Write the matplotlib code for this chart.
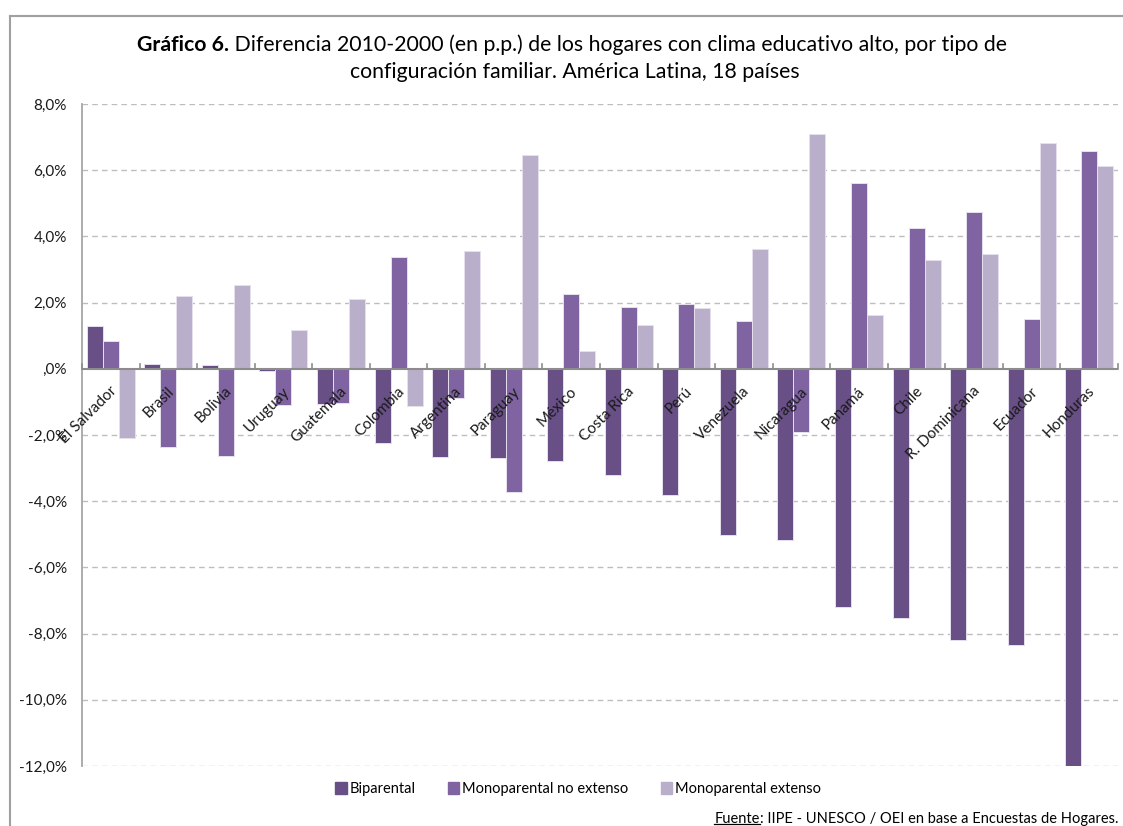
import matplotlib.pyplot as plt
import matplotlib.lines as mlines
import matplotlib.patches as mpatches
import numpy as np

plt.rcParams['font.family'] = ['Lato', 'DejaVu Sans']

paises = ['El Salvador', 'Brasil', 'Bolivia', 'Uruguay', 'Guatemala', 'Colombia',
          'Argentina', 'Paraguay', 'México', 'Costa Rica', 'Perú', 'Venezuela',
          'Nicaragua', 'Panamá', 'Chile', 'R. Dominicana', 'Ecuador', 'Honduras']

biparental = [1.30, 0.15, 0.10, -0.08, -1.05, -2.25, -2.67, -2.70, -2.78, -3.20,
              -3.82, -5.03, -5.18, -7.20, -7.53, -8.20, -8.35, -12.05]
mono_no_ext = [0.85, -2.35, -2.63, -1.08, -1.03, 3.38, -0.88, -3.72, 2.27, 1.88,
               1.97, 1.44, -1.92, 5.60, 4.25, 4.73, 1.50, 6.57]
mono_ext = [-2.10, 2.20, 2.53, 1.18, 2.10, -1.13, 3.57, 6.45, 0.55, 1.32,
            1.85, 3.62, 7.10, 1.62, 3.28, 3.47, 6.83, 6.13]

series = ['Biparental', 'Monoparental no extenso', 'Monoparental extenso']
colores = ['#684F86', '#8064A2', '#BAAFCA']

yticks = [8, 6, 4, 2, 0, -2, -4, -6, -8, -10, -12]
ytick_labels = ['8,0%', '6,0%', '4,0%', '2,0%', ',0%', '-2,0%', '-4,0%', '-6,0%',
                '-8,0%', '-10,0%', '-12,0%']

W, H = 1123, 826
fig = plt.figure(figsize=(W / 100, H / 100), dpi=100)
ax = fig.add_axes([82 / W, 1 - 766 / H, (1118 - 82) / W, (766 - 104) / H])

x = np.arange(len(paises))
ancho = 0.278
for k, (vals, col) in enumerate(zip([biparental, mono_no_ext, mono_ext], colores)):
    ax.bar(x + (k - 1) * ancho, vals, ancho, color=col, edgecolor='#E6E0EE',
           linewidth=0.7, label=series[k], zorder=3)

ax.set_xlim(-0.5, len(paises) - 0.5)
ax.set_ylim(-12, 8)
ax.set_yticks(yticks)
ax.set_yticklabels(ytick_labels)
ax.tick_params(axis='y', length=0, pad=11, labelsize=11, labelcolor='#1a1a1a')
ax.set_xticks([])

for g in yticks:
    if g != 0:
        ax.axhline(g, color='#BDBDBD', lw=1, ls=(0, (4, 3)), zorder=1)
ax.axhline(0, color='#8C8C8C', lw=1.5, zorder=4)
# marcas de separacion entre categorias sobre el eje
for b in np.arange(-0.5, len(paises)):
    ax.plot([b, b], [0, 0.15], color='#8C8C8C', lw=1.2, zorder=4, clip_on=False)

for s in ['top', 'right', 'bottom']:
    ax.spines[s].set_visible(False)
ax.spines['left'].set_color('#A6A6A6')
ax.spines['left'].set_linewidth(1.3)

for i, p in enumerate(paises):
    ax.annotate(p, (i, 0), xytext=(-1, -11), textcoords='offset points',
                rotation=45, rotation_mode='anchor', ha='right', va='top',
                fontsize=11, color='#1a1a1a', zorder=5)

fig.legend(handles=[mpatches.Patch(color=c, label=s) for c, s in zip(colores, series)],
           loc='center', bbox_to_anchor=(578 / W, 1 - 789 / H), ncol=3, frameon=False,
           fontsize=10.5, handlelength=0.8, handleheight=0.8, handletextpad=0.2,
           columnspacing=2.2)

# marco del area del grafico
fig.add_artist(mlines.Line2D([10 / W, 1], [1 - 16 / H, 1 - 16 / H], color='#A0A0A0', lw=1.5))
fig.add_artist(mlines.Line2D([10 / W, 10 / W], [0, 1 - 16 / H], color='#A0A0A0', lw=1.5))

# titulo con la primera parte en negrita
fig.canvas.draw()
r = fig.canvas.get_renderer()
ty = 1 - 45 / H
t1 = fig.text(0, ty, 'Gráfico 6.', fontsize=15.3, weight='bold', va='center')
t2 = fig.text(0, ty, ' Diferencia 2010-2000 (en p.p.) de los hogares con clima educativo alto, por tipo de',
              fontsize=15.3, va='center')
w1 = t1.get_window_extent(r).width
w2 = t2.get_window_extent(r).width
x0 = 572 - (w1 + w2) / 2
t1.set_x(x0 / W)
t2.set_x((x0 + w1) / W)
fig.text(575 / W, 1 - 72 / H, 'configuración familiar. América Latina, 18 países',
         fontsize=15.3, ha='center', va='center')

# fuente con "Fuente" subrayado
fy = 1 - 819 / H
f2 = fig.text(1118 / W, fy, ': IIPE - UNESCO / OEI en base a Encuestas de Hogares.',
              fontsize=10.5, ha='right', va='center')
wf2 = f2.get_window_extent(r).width
f1 = fig.text((1118 - wf2) / W, fy, 'Fuente', fontsize=10.5, ha='right', va='center')
bb = f1.get_window_extent(r)
uy = 1 - 823.5 / H
fig.add_artist(mlines.Line2D([bb.x0 / W, bb.x1 / W], [uy, uy], color='black', lw=0.9))

fig.savefig('out.png', dpi=100)
